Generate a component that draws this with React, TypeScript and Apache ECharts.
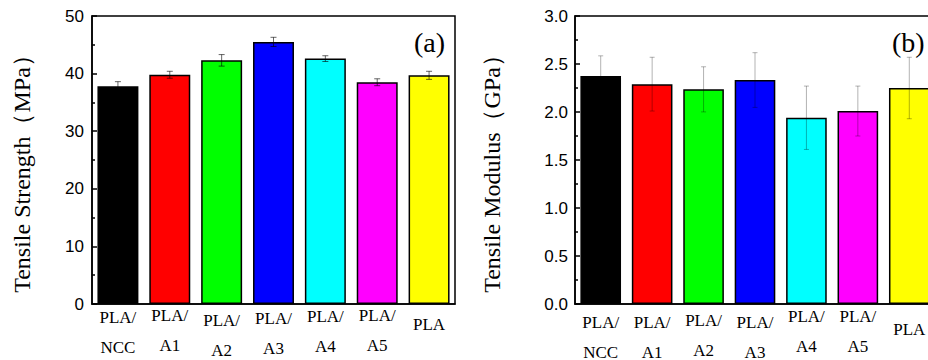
import React, { useEffect, useRef } from "react";
import * as echarts from "echarts";

const categories = ["PLA/\nNCC", "PLA/\nA1", "PLA/\nA2", "PLA/\nA3", "PLA/\nA4", "PLA/\nA5", "PLA"];
const barColors = ["#000000", "#ff0000", "#00ff00", "#0000ff", "#00ffff", "#ff00ff", "#ffff00"];

const strengthValues = [37.8, 39.8, 42.3, 45.5, 42.6, 38.5, 39.7];
const strengthErrors = [0.8, 0.6, 1.0, 0.8, 0.5, 0.6, 0.7];

const modulusValues = [2.375, 2.29, 2.236, 2.333, 1.94, 2.01, 2.25];
const modulusErrors = [0.21, 0.28, 0.235, 0.285, 0.33, 0.26, 0.32];

const strengthTicks = [0, 10, 20, 30, 40, 50];
const modulusTicks = ["0.0", "0.5", "1.0", "1.5", "2.0", "2.5", "3.0"];

// style: per-label vertical drop (px) to mimic the staggered labels
const dropA = [4.5, 2, 7, 5.5, 3, 2, 11];
const dropB = [9, 9, 7, 9, 3, 3, 16];

const sans = "'Liberation Sans', Arial, sans-serif";
const serif = "'Liberation Serif', 'Times New Roman', serif";

function richFor(drops: number[]) {
  const rich: any = {
    t: { fontFamily: serif, fontSize: 17, lineHeight: 30, color: "#000" },
  };
  drops.forEach((d, i) => {
    rich["g" + i] = { fontSize: 1, lineHeight: d };
  });
  return rich;
}

function labelFormatter(value: string, index: number) {
  const lines = value.split("\n").map((l) => `{t|${l}}`);
  return `{g${index}| }\n` + lines.join("\n");
}

function errorSeries(gridIdx: number, values: number[], errs: number[], color: string, cap: number) {
  return {
    type: "custom",
    xAxisIndex: gridIdx,
    yAxisIndex: gridIdx,
    z: 5,
    data: values.map((v, i) => [i, v, errs[i]]),
    encode: { x: 0, y: 1 },
    renderItem: (params: any, api: any) => {
      const x = api.value(0);
      const y = api.value(1);
      const e = api.value(2);
      const top = api.coord([x, y + e]);
      const bot = api.coord([x, y - e]);
      const style = { stroke: color, lineWidth: 1 };
      return {
        type: "group",
        children: [
          { type: "line", shape: { x1: top[0], y1: top[1], x2: bot[0], y2: bot[1] }, style },
          { type: "line", shape: { x1: top[0] - cap / 2, y1: top[1], x2: top[0] + cap / 2, y2: top[1] }, style },
          { type: "line", shape: { x1: bot[0] - cap / 2, y1: bot[1], x2: bot[0] + cap / 2, y2: bot[1] }, style },
        ],
      };
    },
  };
}

export default function App() {
  const ref = useRef<HTMLDivElement>(null);
  useEffect(() => {
    if (!ref.current) return;
    const chart = echarts.init(ref.current, undefined, { renderer: "svg" });
    const yAxisCommon = {
      type: "value",
      axisLine: { show: true, lineStyle: { color: "#000", width: 1.5 } },
      axisTick: { show: true, inside: true, length: 5, lineStyle: { color: "#000", width: 1.5 } },
      minorTick: { show: true, splitNumber: 2, length: 3, lineStyle: { color: "#000", width: 1.5 } },
      splitLine: { show: false },
      nameLocation: "middle",
      nameRotate: 90,
      nameTextStyle: { fontFamily: serif, fontSize: 24, color: "#000", padding: [0, 16, 0, 0] },
    };
    const xAxisCommon = {
      type: "category",
      data: categories,
      axisLine: { show: true, lineStyle: { color: "#000", width: 1.5 } },
      axisTick: { show: false },
      splitLine: { show: false },
    };
    const option: any = {
      animation: false,
      backgroundColor: "#fff",
      grid: [
        { left: 92, top: 16, width: 363, height: 288, outerBoundsMode: "none", containLabel: false, show: true, borderColor: "#000", borderWidth: 1.5, backgroundColor: "transparent" },
        { left: 575, top: 16, width: 360, height: 288, outerBoundsMode: "none", containLabel: false, show: true, borderColor: "#000", borderWidth: 1.5, backgroundColor: "transparent" },
      ],
      xAxis: [
        {
          ...xAxisCommon,
          gridIndex: 0,
          axisLabel: { margin: -6, interval: 0, formatter: labelFormatter, rich: richFor(dropA) },
        },
        {
          ...xAxisCommon,
          gridIndex: 1,
          axisLabel: { margin: -6, interval: 0, formatter: labelFormatter, rich: richFor(dropB) },
        },
      ],
      yAxis: [
        {
          ...yAxisCommon,
          gridIndex: 0,
          min: strengthTicks[0],
          max: strengthTicks[strengthTicks.length - 1],
          interval: strengthTicks[1] - strengthTicks[0],
          name: "Tensile Strength（MPa）",
          nameGap: 58,
          axisLabel: { fontFamily: sans, fontSize: 17, color: "#000", margin: 8 },
        },
        {
          ...yAxisCommon,
          gridIndex: 1,
          min: Number(modulusTicks[0]),
          max: Number(modulusTicks[modulusTicks.length - 1]),
          interval: Number(modulusTicks[1]) - Number(modulusTicks[0]),
          name: "Tensile Modulus（GPa）",
          nameGap: 71,
          axisLabel: { fontFamily: sans, fontSize: 17, color: "#000", margin: 7, formatter: (v: number) => v.toFixed(1) },
        },
      ],
      series: [
        {
          type: "bar",
          xAxisIndex: 0,
          yAxisIndex: 0,
          barWidth: "79%",
          data: strengthValues.map((v, i) => ({ value: v, itemStyle: { color: barColors[i] } })),
          itemStyle: { borderColor: "#000", borderWidth: 1.5 },
        },
        errorSeries(0, strengthValues, strengthErrors, "rgba(0,0,0,0.6)", 6),
        {
          type: "bar",
          xAxisIndex: 1,
          yAxisIndex: 1,
          barWidth: "79%",
          data: modulusValues.map((v, i) => ({ value: v, itemStyle: { color: barColors[i] } })),
          itemStyle: { borderColor: "#000", borderWidth: 1.5 },
        },
        errorSeries(1, modulusValues, modulusErrors, "rgba(0,0,0,0.3)", 5),
      ],
      graphic: [
        { type: "text", left: 414, top: 28, style: { text: "(a)", font: `28px ${serif}`, fill: "#000" } },
        { type: "text", left: 892, top: 28, style: { text: "(b)", font: `28px ${serif}`, fill: "#000" } },
      ],
    };
    chart.setOption(option);
    return () => chart.dispose();
  }, []);
  return (
    <div
      ref={ref}
      style={{ position: "fixed", left: 0, top: 0, width: 928, height: 360, background: "#fff" }}
    />
  );
}
